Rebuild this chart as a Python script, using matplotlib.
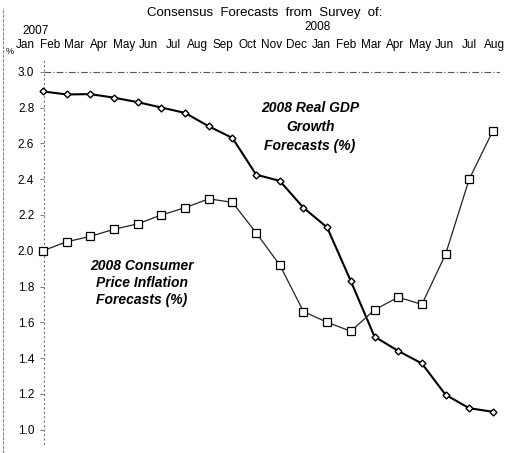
import matplotlib
matplotlib.use("Agg")
import matplotlib.pyplot as plt
from matplotlib.lines import Line2D

months = ["Jan", "Feb", "Mar", "Apr", "May", "Jun", "Jul", "Aug", "Sep", "Oct", "Nov", "Dec",
          "Jan", "Feb", "Mar", "Apr", "May", "Jun", "Jul", "Aug"]
gdp = [2.89, 2.873, 2.875, 2.855, 2.83, 2.80, 2.77, 2.695, 2.63, 2.425,
       2.39, 2.24, 2.13, 1.83, 1.52, 1.44, 1.37, 1.195, 1.12, 1.10]
cpi = [2.00, 2.05, 2.08, 2.12, 2.15, 2.20, 2.24, 2.29, 2.27, 2.10,
       1.92, 1.66, 1.60, 1.55, 1.67, 1.74, 1.70, 1.98, 2.40, 2.67]
yticks = [1.0, 1.2, 1.4, 1.6, 1.8, 2.0, 2.2, 2.4, 2.6, 2.8, 3.0]

W, H = 506, 453
fig = plt.figure(figsize=(W / 100, H / 100), dpi=100)
plt.rcParams['font.family'] = ['Liberation Sans', 'DejaVu Sans']

bottom = 1 - 444 / H
height = (444 - 61) / H

# month label axis (separate, wider, transparent)
axm = fig.add_axes([10 / W, bottom, 496 / W, height])
x = list(range(len(months)))
axm.set_xticks(x)
axm.set_xticklabels(months, fontsize=8.5)
axm.xaxis.tick_top()
axm.tick_params(axis="x", length=0, pad=7)
axm.set_yticks([])
axm.set_xlim((10 - 25) / 24.7, (506 - 25) / 24.7)
axm.patch.set_visible(False)
for s in axm.spines.values():
    s.set_visible(False)

ax = fig.add_axes([44 / W, bottom, 456 / W, height])
ax.patch.set_visible(False)

ax.axhline(3.0, color="#555555", lw=0.8, ls=(0, (6, 2, 1, 2)), zorder=1)

ax.plot(x, gdp, color="black", lw=1.5, marker="D", ms=3.5, mfc="white", mec="black",
        mew=1.0, clip_on=False, zorder=3)
ax.plot(x, cpi, color="#222222", lw=0.9, marker="s", ms=5.5, mfc="white", mec="black",
        mew=0.9, clip_on=False, zorder=3)

for s in ["top", "right", "bottom"]:
    ax.spines[s].set_visible(False)
ax.spines["left"].set_linestyle((0, (1, 3)))
ax.spines["left"].set_color("#777777")
ax.spines["left"].set_linewidth(0.8)
ax.set_xticks([])
ax.set_yticks(yticks)
ax.set_yticklabels([f"{v:.1f}" for v in yticks])
ax.tick_params(axis="y", length=3, width=0.6, color="#666666", pad=4, labelsize=8.5)
ax.set_xlim((44 - 43) / 23.68, (500 - 43) / 23.68)
ax.set_ylim(0.92, 3.06)

ax.text(11.28, 2.69, "2008 Real GDP\nGrowth\nForecasts (%)", ha="center", va="center",
        fontsize=10, fontweight="bold", fontstyle="italic", linespacing=1.45)
ax.text(4.18, 1.82, "2008 Consumer\nPrice Inflation\nForecasts (%)", ha="center", va="center",
        fontsize=10, fontweight="bold", fontstyle="italic", linespacing=1.3)

fig.text(265 / W, 1 - 13 / H, "Consensus  Forecasts  from  Survey  of:", ha="center", va="center",
         fontsize=9.5)
fig.text(36 / W, 1 - 31 / H, "2007", ha="center", va="center", fontsize=8.5)
fig.text(318 / W, 1 - 27 / H, "2008", ha="center", va="center", fontsize=8.5)
fig.text(10 / W, 1 - 51 / H, "%", ha="center", va="center", fontsize=6.5)

fig.add_artist(Line2D([3 / W, 3 / W], [0, 1 - 8 / H], transform=fig.transFigure,
                      color="#888888", lw=0.8, ls=(0, (3, 1))))

fig.savefig("out.png", dpi=100)
